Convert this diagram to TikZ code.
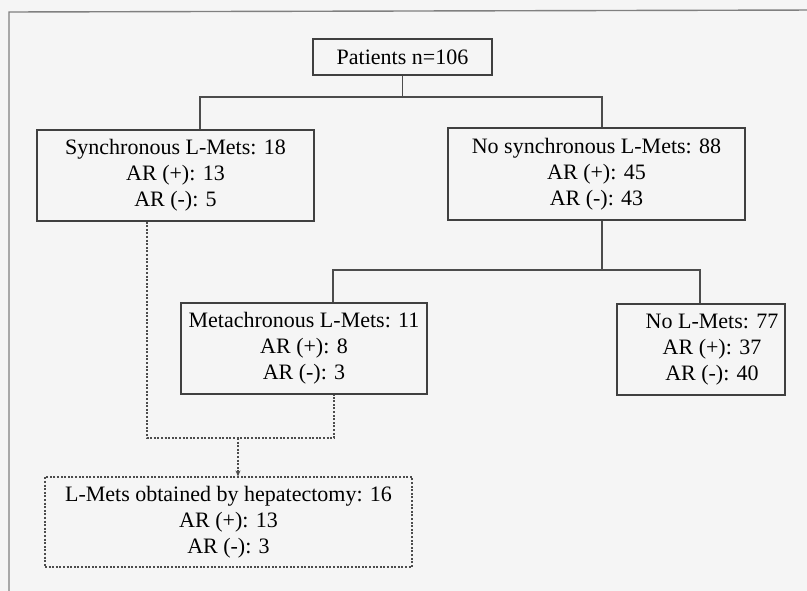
\documentclass[tikz,border=0pt]{standalone}
\usepackage{fontspec}
\setmainfont{Liberation Serif}
\usetikzlibrary{arrows.meta}
\begin{document}
\begin{tikzpicture}[x=1pt,y=-1pt,
  every node/.style={font=\fontsize{22}{26}\selectfont, text=black},
  solidbox/.style={draw=black!75, line width=1.2pt, rectangle, inner sep=0pt, align=center},
  dotbox/.style={draw=black!70, line width=1.2pt, rectangle, inner sep=0pt, align=center, dash pattern=on 2pt off 1.6pt},
  link/.style={draw=black!70, line width=1.1pt},
  dotlink/.style={draw=black!70, line width=1.1pt, dash pattern=on 2pt off 1.6pt}]
\useasboundingbox (0,0) rectangle (807,591);
\fill[white!96!black] (0,0) rectangle (807,591);
% outer frame
\draw[black!50, line width=1.4pt] (9,600) -- (9,12) -- (820,10);

\node[solidbox, minimum width=179pt, minimum height=36pt] (pat) at (402.5,57) {Patients n=106};
\node[solidbox, minimum width=277pt, minimum height=91pt] (syn) at (175.5,175.5)
  {Synchronous L-Mets: 18\\AR (+): 13\\AR (-): 5};
\node[solidbox, minimum width=297pt, minimum height=92pt] (nosyn) at (596.5,174)
  {No synchronous L-Mets: 88\\AR (+): 45\\AR (-): 43};
\node[solidbox, minimum width=246pt, minimum height=91pt] (meta) at (304,348.5)
  {Metachronous L-Mets: 11\\AR (+): 8\\AR (-): 3};
\node[solidbox, minimum width=168pt, minimum height=91pt] (nol) at (701,349.5)
  {\hspace*{22pt}No L-Mets: 77\\\hspace*{22pt}AR (+): 37\\\hspace*{22pt}AR (-): 40};
\node[dotbox, minimum width=367pt, minimum height=90pt] (hep) at (228.5,522)
  {L-Mets obtained by hepatectomy: 16\\AR (+): 13\\AR (-): 3};

% solid tree connectors
\coordinate (j1) at (402.5,97);
\draw[link] (pat.south) -- (j1);
\draw[link] (syn.north -| 200,0) |- (j1) -| (nosyn.north -| 602,0);
\coordinate (j2) at (602,270);
\draw[link] (nosyn.south -| 602,0) -- (j2);
\draw[link] (meta.north -| 333,0) |- (j2) -| (nol.north -| 700,0);

% dotted merge
\coordinate (m1) at (147,438);
\coordinate (m2) at (334,438);
\coordinate (m3) at (238,438);
\draw[dotlink] (syn.south -| 147,0) -- (m1) -- (m2) -- (meta.south -| 334,0);
\draw[dotlink, -{Stealth[length=6pt,width=5pt]}] (m3) -- (hep.north -| 238,0);
\end{tikzpicture}
\end{document}
